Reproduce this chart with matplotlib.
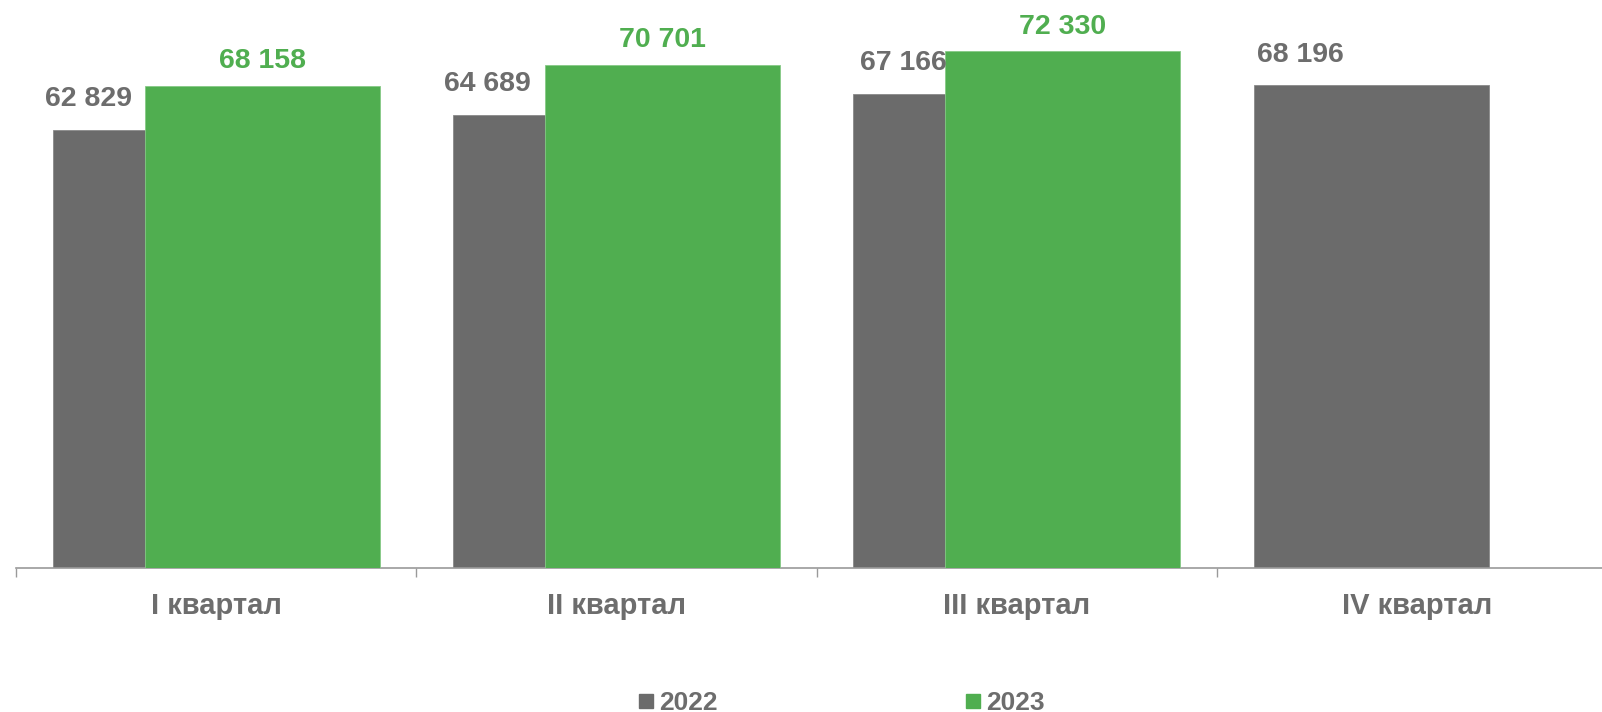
import numpy as np
import matplotlib
matplotlib.use("Agg")
import matplotlib.pyplot as plt
from matplotlib.patches import Rectangle

plt.rcParams['font.family'] = ['Liberation Sans', 'DejaVu Sans']

quarters = ['I квартал', 'II квартал', 'III квартал', 'IV квартал']
years = ['2022', '2023']
values_2022 = [62829, 64689, 67166, 68196]
values_2023 = [68158, 70701, 72330]

GRAY = '#6b6b6b'
GREEN = '#50ae50'
TEXT_GRAY = '#6d6d6d'

W, H = 1602, 712
fig = plt.figure(figsize=(W / 100, H / 100), dpi=100)
ax = fig.add_axes([16 / W, (H - 568) / H, (W - 16) / W, 568 / H])

x = np.arange(len(quarters))
bar_w = 0.587
off = 0.115

b22 = ax.bar(x - off, values_2022, width=bar_w, color=GRAY,
             edgecolor='#8a8a8a', linewidth=0.6, zorder=2)
b23 = ax.bar(x[:len(values_2023)] + off, values_2023, width=bar_w, color=GREEN,
             edgecolor='#86c986', linewidth=0.6, zorder=3)

ax.set_xlim(-0.5, -0.5 + (W - 16) / 400.3)
ax.set_ylim(10150, 78460)

# value labels
gray_dx = [-82, -83, -67, -71]  # px shift of grey labels
for i, v in enumerate(values_2022):
    ax.annotate(f'{v:,}'.replace(',', ' '), xy=(x[i] - off, v),
                xytext=(gray_dx[i] * 0.72, 23.5 * 0.72), textcoords='offset points',
                ha='center', va='baseline', fontsize=20.5, fontweight='bold',
                color=TEXT_GRAY, zorder=4)
for i, v in enumerate(values_2023):
    ax.annotate(f'{v:,}'.replace(',', ' '), xy=(x[i] + off, v),
                xytext=(0, 17.3 * 0.72), textcoords='offset points',
                ha='center', va='baseline', fontsize=20.5, fontweight='bold',
                color=GREEN, zorder=4)

# axes styling
for s in ['top', 'right', 'left']:
    ax.spines[s].set_visible(False)
ax.spines['bottom'].set_color('#9a9a9a')
ax.spines['bottom'].set_linewidth(1.2)
ax.set_yticks([])
ax.set_xticks(np.arange(len(quarters)) - 0.5)
ax.set_xticklabels([])
ax.tick_params(axis='x', which='major', length=6.5, width=1.0, color='#9a9a9a')
for i, q in enumerate(quarters):
    ax.annotate(q, xy=(x[i], 0), xycoords=('data', 'axes fraction'),
                xytext=(0, -46.3 * 0.72), textcoords='offset points',
                ha='center', va='baseline', fontsize=21, fontweight='bold',
                color=TEXT_GRAY)

# legend
leg_items = [(639, GRAY, years[0]), (966, GREEN, years[1])]
for px, c, lab in leg_items:
    fig.add_artist(Rectangle((px / W, (H - 708) / H), 14 / W, 14 / H,
                             transform=fig.transFigure, color=c))
    fig.text((px + 20) / W, 2 / H, lab, ha='left', va='baseline',
             fontsize=19, fontweight='bold', color=TEXT_GRAY)

fig.savefig('out.png', dpi=100)
